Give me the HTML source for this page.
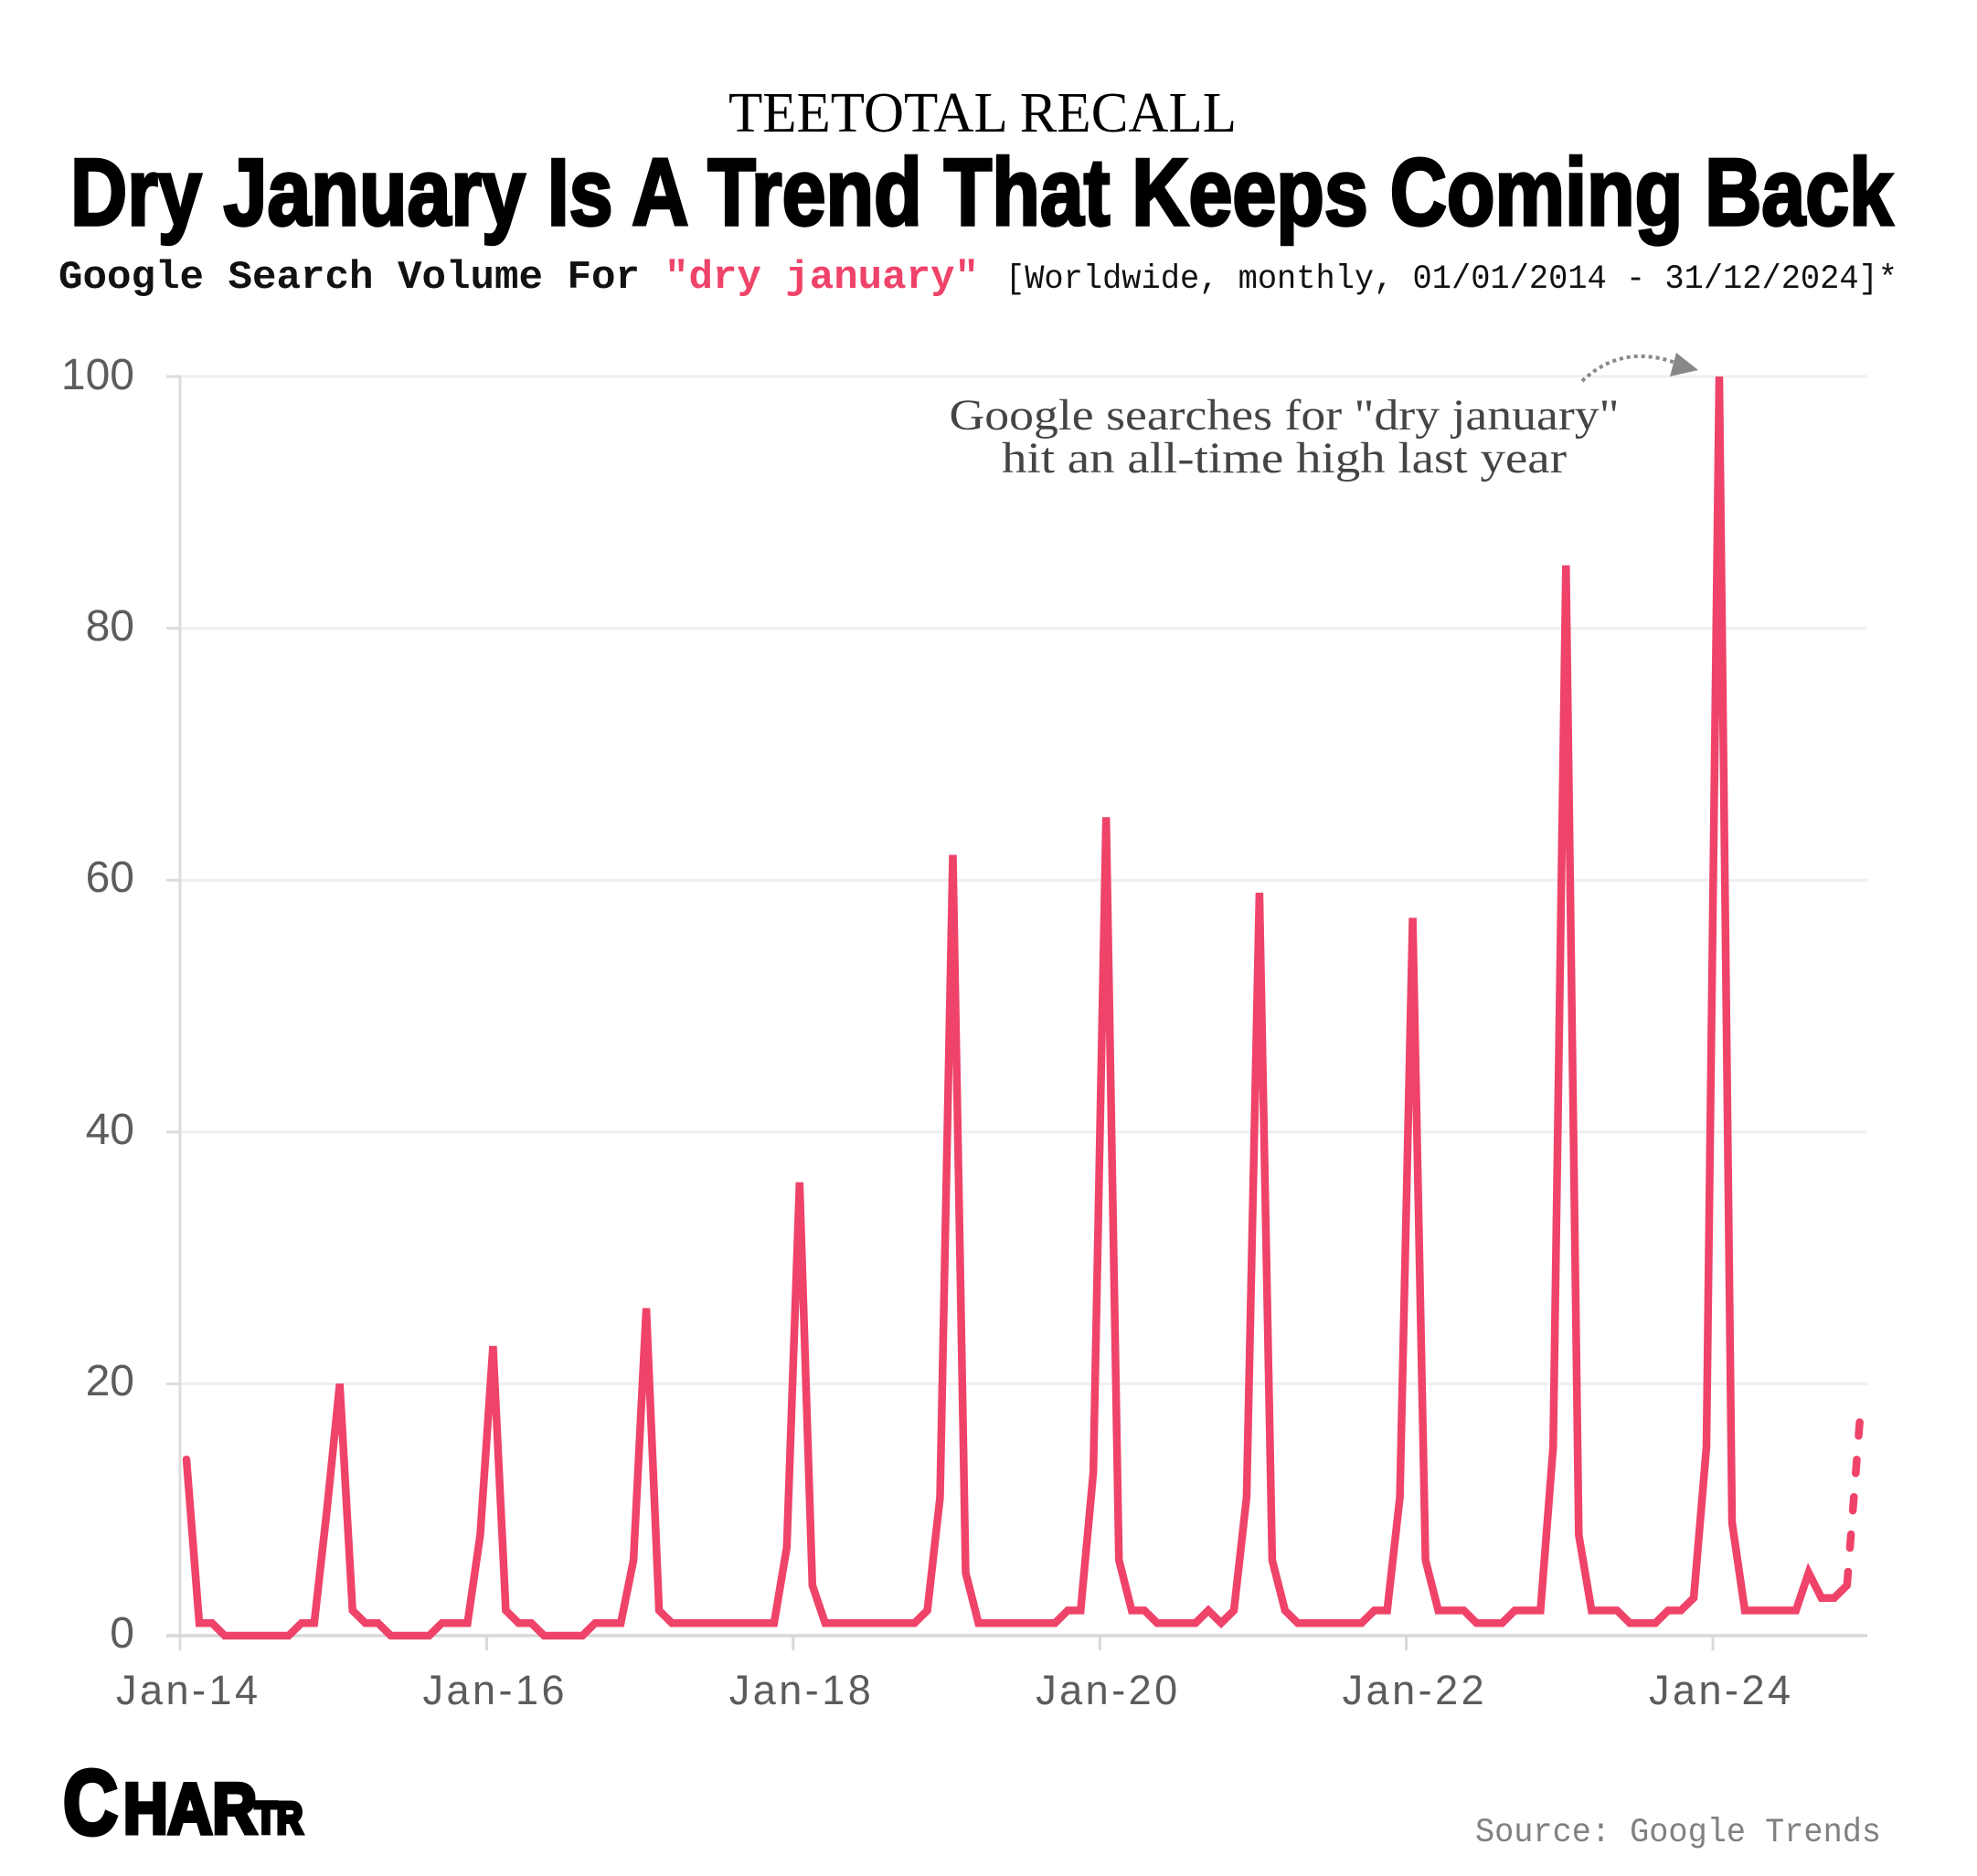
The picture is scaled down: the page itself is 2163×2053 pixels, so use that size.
<!DOCTYPE html>
<html>
<head>
<meta charset="utf-8">
<style>
  html,body{margin:0;padding:0;background:#fff;}
  svg{display:block;}
</style>
</head>
<body>
<svg width="2163" height="2053" viewBox="0 0 2163 2053" xmlns="http://www.w3.org/2000/svg">
  <rect x="0" y="0" width="2163" height="2053" fill="#ffffff"/>

  <!-- Header -->
  <text x="797" y="144" font-family="'Liberation Serif', serif" font-size="62" fill="#000" textLength="556" lengthAdjust="spacingAndGlyphs">TEETOTAL RECALL</text>
  <text x="77" y="246" font-family="'Liberation Sans', sans-serif" font-weight="bold" font-size="104" fill="#000" stroke="#000" stroke-width="3.4" textLength="1994" lengthAdjust="spacingAndGlyphs">Dry January Is A Trend That Keeps Coming Back</text>

  <text x="64" y="315" font-family="'Liberation Mono', monospace" font-weight="bold" font-size="44" fill="#111" textLength="636" lengthAdjust="spacingAndGlyphs">Google Search Volume For</text>
  <text x="727" y="315" font-family="'Liberation Mono', monospace" font-weight="bold" font-size="44" fill="#EF4369" textLength="344" lengthAdjust="spacingAndGlyphs">"dry january"</text>
  <text x="1100" y="315" font-family="'Liberation Mono', monospace" font-size="37" fill="#111" textLength="976" lengthAdjust="spacingAndGlyphs">[Worldwide, monthly, 01/01/2014 - 31/12/2024]*</text>

  <!-- Gridlines -->
  <g stroke="#efefef" stroke-width="3">
    <line x1="197" y1="412" x2="2043" y2="412"/>
    <line x1="197" y1="687.6" x2="2043" y2="687.6"/>
    <line x1="197" y1="963.2" x2="2043" y2="963.2"/>
    <line x1="197" y1="1238.8" x2="2043" y2="1238.8"/>
    <line x1="197" y1="1514.4" x2="2043" y2="1514.4"/>
  </g>
  <!-- y tick stubs -->
  <g stroke="#dcdcdc" stroke-width="3">
    <line x1="182" y1="412" x2="197" y2="412"/>
    <line x1="182" y1="687.6" x2="197" y2="687.6"/>
    <line x1="182" y1="963.2" x2="197" y2="963.2"/>
    <line x1="182" y1="1238.8" x2="197" y2="1238.8"/>
    <line x1="182" y1="1514.4" x2="197" y2="1514.4"/>
    <line x1="197" y1="411" x2="197" y2="1806"/>
  </g>
  <!-- x axis -->
  <line x1="182" y1="1790" x2="2043" y2="1790" stroke="#d8d8d8" stroke-width="3.5"/>
  <g stroke="#d8d8d8" stroke-width="3">
    <line x1="532.4" y1="1790" x2="532.4" y2="1806"/>
    <line x1="867.8" y1="1790" x2="867.8" y2="1806"/>
    <line x1="1203.2" y1="1790" x2="1203.2" y2="1806"/>
    <line x1="1538.6" y1="1790" x2="1538.6" y2="1806"/>
    <line x1="1874" y1="1790" x2="1874" y2="1806"/>
  </g>

  <!-- y labels -->
  <g font-family="'Liberation Sans', sans-serif" font-size="48" fill="#5c5c5c" text-anchor="end">
    <text x="147" y="426">100</text>
    <text x="147" y="701">80</text>
    <text x="147" y="976">60</text>
    <text x="147" y="1252">40</text>
    <text x="147" y="1527">20</text>
    <text x="147" y="1803">0</text>
  </g>

  <!-- x labels -->
  <g font-family="'Liberation Sans', sans-serif" font-size="45" fill="#5c5c5c" text-anchor="middle">
    <text x="204.5" y="1865" textLength="155" lengthAdjust="spacing">Jan-14</text>
    <text x="540" y="1865" textLength="155" lengthAdjust="spacing">Jan-16</text>
    <text x="875.3" y="1865" textLength="155" lengthAdjust="spacing">Jan-18</text>
    <text x="1210.7" y="1865" textLength="155" lengthAdjust="spacing">Jan-20</text>
    <text x="1546.1" y="1865" textLength="155" lengthAdjust="spacing">Jan-22</text>
    <text x="1881.5" y="1865" textLength="155" lengthAdjust="spacing">Jan-24</text>
  </g>

  <!-- Data line -->
  <polyline fill="none" stroke="#EF4369" stroke-width="8.5" stroke-linecap="round" stroke-linejoin="miter" stroke-miterlimit="4"
    points="204,1597.1 218,1776.2 232,1776.2 245.9,1790 315.8,1790 329.8,1776.2 343.8,1776.2 357.7,1652.2 371.7,1514.4 385.7,1762.4 399.7,1776.2 413.6,1776.2 427.6,1790 469.5,1790 483.5,1776.2 511.5,1776.2 525.4,1679.8 539.4,1473.1 553.4,1762.4 567.4,1776.2 581.3,1776.2 595.3,1790 637.2,1790 651.2,1776.2 679.2,1776.2 693.1,1707.3 707.1,1431.7 721.1,1762.4 735.1,1776.2 846.9,1776.2 860.8,1693.5 874.8,1293.9 888.8,1734.9 902.8,1776.2 1000.6,1776.2 1014.6,1762.4 1028.5,1638.4 1042.5,935.6 1056.5,1721.1 1070.5,1776.2 1154.3,1776.2 1168.3,1762.4 1182.3,1762.4 1196.2,1610.9 1210.2,894.3 1224.2,1707.3 1238.2,1762.4 1252.1,1762.4 1266.1,1776.2 1308,1776.2 1322,1762.4 1336,1776.2 1350,1762.4 1363.9,1638.4 1377.9,977 1391.9,1707.3 1405.9,1762.4 1419.8,1776.2 1489.7,1776.2 1503.7,1762.4 1517.7,1762.4 1531.6,1638.4 1545.6,1004.5 1559.6,1707.3 1573.6,1762.4 1601.5,1762.4 1615.5,1776.2 1643.4,1776.2 1657.4,1762.4 1685.4,1762.4 1699.3,1583.3 1713.3,618.7 1727.3,1679.8 1741.3,1762.4 1769.2,1762.4 1783.2,1776.2 1811.1,1776.2 1825.1,1762.4 1839.1,1762.4 1853.1,1748.7 1867,1583.3 1881,412 1895,1666 1909,1762.4 1964.9,1762.4 1978.8,1721.1 1992.8,1748.7 2006.8,1748.7 2020.8,1734.9"/>
  <line x1="2020.8" y1="1734.9" x2="2034.7" y2="1555.7" stroke="#EF4369" stroke-width="8.5" stroke-linecap="round" stroke-dasharray="15 26"/>

  <!-- Annotation -->
  <g font-family="'Liberation Serif', serif" font-size="48" fill="#444" text-anchor="middle">
    <text x="1405" y="470" textLength="733" lengthAdjust="spacingAndGlyphs">Google searches for "dry january"</text>
    <text x="1405" y="517" textLength="618" lengthAdjust="spacingAndGlyphs">hit an all-time high last year</text>
  </g>
  <path d="M1731,417 Q1775,375 1836,398" fill="none" stroke="#888" stroke-width="4" stroke-dasharray="4 4"/>
  <polygon points="1834,386 1858,405 1827,412" fill="#888"/>

  <!-- Logo -->
  <g font-family="'Liberation Sans', sans-serif" font-weight="bold" fill="#000" stroke="#000" stroke-width="5">
    <text x="69" y="2007" font-size="100" textLength="60" lengthAdjust="spacingAndGlyphs">C</text>
    <text x="135" y="2006" font-size="78" textLength="146" lengthAdjust="spacingAndGlyphs">HAR</text>
    <text x="279" y="2006" font-size="48" textLength="52" lengthAdjust="spacingAndGlyphs">TR</text>
  </g>

  <!-- Source -->
  <text x="1614" y="2015" font-family="'Liberation Mono', monospace" font-size="37" fill="#808080" textLength="444" lengthAdjust="spacingAndGlyphs">Source: Google Trends</text>
</svg>
</body>
</html>
